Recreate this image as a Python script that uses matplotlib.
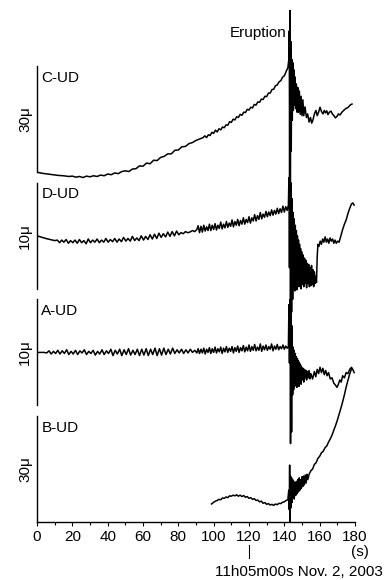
import matplotlib
matplotlib.use("Agg")
import matplotlib.pyplot as plt
from matplotlib.ticker import MultipleLocator

plt.rcParams['font.family'] = ['Liberation Sans', 'DejaVu Sans']
plt.rcParams['font.size'] = 11

# station labels and scale bars (micro units per bar)
stations = ["C-UD", "D-UD", "A-UD", "B-UD"]
scales = [30, 10, 10, 30]
scale_labels = ["30μ", "10μ", "10μ", "30μ"]

# traces: (time s, amplitude in micro units above bottom of scale bar)
c_trace = [
    (0, 0.0), (3, -0.3), (6, -0.5), (9, -0.7), (12, -0.9), (15, -1.0), (18, -1.2), (20, -1.1),
    (22, -1.4), (24, -1.2), (26, -1.5), (28, -1.1), (30, -1.3), (32, -1.0), (34, -1.2), (36, -0.8),
    (38, -1.0), (40, -0.5), (42, -0.7), (44, -0.2), (46, -0.4), (48, 0.2), (50, 0.4), (52, 0.2),
    (54, 0.9), (56, 1.0), (58, 1.8), (60, 1.7), (62, 2.6), (64, 2.4), (66, 3.4), (68, 3.3),
    (70, 4.2), (72, 4.5), (74, 5.2), (76, 5.2), (78, 6.2), (80, 6.3), (82, 7.2), (84, 7.3),
    (86, 8.1), (88, 8.4), (90, 9.0), (92, 9.4), (94, 9.8),
    (95, 10.3), (96, 9.8), (97, 10.6), (98, 10.4), (99, 11.3), (100, 11.0), (101, 11.9), (102, 11.4),
    (103, 12.3), (104, 12.0), (105, 12.8), (106, 12.6), (107, 13.4), (108, 13.3), (109, 14.3),
    (110, 14.1), (111, 15.0), (112, 14.8), (113, 15.7), (114, 15.5), (115, 16.4), (116, 16.1),
    (117, 17.0), (118, 16.9), (119, 17.8), (120, 17.6), (121, 18.4), (122, 18.2), (123, 19.2),
    (124, 19.0), (125, 19.9), (126, 19.8), (127, 20.7), (128, 20.6), (129, 21.5), (130, 21.4),
    (131, 22.4), (132, 22.4), (133, 23.4), (134, 23.5), (135, 24.5), (136, 24.7), (137, 25.6),
    (138, 25.9), (139, 26.9), (140, 27.3), (141, 28.5), (142, 29.6),
    (142.5, 31.7), (142.8, 40.0), (143.0, -2.3), (143.2, 45.8), (143.4, -8.0), (143.7, 37.0),
    (143.9, 6.0), (144.2, 32.0), (144.5, 14.7), (144.8, 31.0), (145.1, 17.5), (145.4, 29.0),
    (145.7, 19.0), (146.0, 27.0), (146.4, 18.0), (146.8, 25.0), (147.2, 17.0), (147.6, 24.0),
    (148.0, 17.0), (148.5, 23.0), (149.0, 16.4), (149.5, 21.5), (150.0, 16.0), (150.5, 20.5),
    (151, 16.0), (151.7, 18.5), (152.5, 15.5), (153.2, 16.5), (154, 14.2), (154.8, 15.5),
    (155.5, 13.9), (156.2, 14.8), (157, 16.5), (157.9, 17.5), (158.6, 16.0), (159.4, 17.0),
    (160.2, 18.4), (161, 17.2), (161.9, 16.5), (162.6, 17.5), (163.3, 16.8), (164, 17.4),
    (164.7, 16.3), (165.5, 17.0), (166.4, 17.3), (167.2, 16.5), (168.1, 16.0), (168.9, 15.4),
    (169.8, 15.8), (170.6, 16.5), (171.5, 16.2), (172.6, 17.0), (173.8, 17.6), (175, 18.1),
    (176, 18.3), (177.2, 19.0), (178.3, 19.3),
]

d_trace = [
    (0, 5.0), (5, 4.75), (10, 4.55), (11.5, 4.6), (12.8, 4.35), (14, 4.6), (15.2, 4.4), (16.5, 4.65),
    (17.8, 4.3), (19, 4.55), (20.3, 4.35), (21.5, 4.6), (22.8, 4.3), (24, 4.65), (25.3, 4.35),
    (26.5, 4.55), (27.8, 4.25), (29, 4.7), (30.3, 4.35), (31.5, 4.6), (32.8, 4.4), (34, 4.7),
    (35.3, 4.35), (36.5, 4.6), (37.8, 4.4), (39, 4.75), (40.3, 4.4), (41.5, 4.65), (42.8, 4.45),
    (44, 4.75), (45.3, 4.4), (46.5, 4.7), (47.8, 4.45), (49, 4.85), (50.3, 4.5), (51.5, 4.75),
    (52.8, 4.5), (54, 4.95), (55.3, 4.55), (56.5, 4.8), (57.8, 4.55), (59, 5.0), (60.3, 4.6),
    (61.5, 4.95), (62.8, 4.65), (64, 5.1), (65.3, 4.7), (66.5, 5.15), (67.8, 4.75), (69, 5.25),
    (70.3, 4.85), (71.5, 5.2), (72.8, 4.9), (74, 5.35), (75.3, 4.95), (76.5, 5.4), (77.8, 5.0),
    (79, 5.45), (80.3, 5.1), (81.5, 5.3), (82.8, 5.2), (84, 5.4), (85.3, 5.3), (86.5, 5.35),
    (88, 5.5), (89.3, 5.4), (90.5, 5.6),
    (91.2, 5.95), (92.0, 5.3), (92.8, 5.9), (93.6, 5.35), (94.4, 6.0), (95.2, 5.45), (96.0, 5.85),
    (96.8, 5.5), (97.6, 6.1), (98.4, 5.5), (99.2, 6.0), (100, 5.6), (100.8, 6.15), (101.6, 5.55),
    (102.4, 6.0), (103.2, 5.7), (104, 6.3), (104.8, 5.65), (105.6, 6.1), (106.4, 5.75), (107.2, 6.35),
    (108, 5.8), (108.8, 6.2), (109.6, 5.9), (110.4, 6.5), (111.2, 5.85), (112, 6.35), (112.8, 6.0),
    (113.6, 6.55), (114.4, 5.95), (115.2, 6.45), (116, 6.1), (116.8, 6.7), (117.6, 6.1), (118.4, 6.55),
    (119.2, 6.25), (120, 6.8), (120.8, 6.2), (121.6, 6.7), (122.4, 6.4), (123.2, 7.0), (124, 6.4),
    (124.8, 6.9), (125.6, 6.55), (126.4, 7.2), (127.2, 6.6), (128, 7.05), (128.8, 6.75), (129.6, 7.3),
    (130.4, 6.8), (131.2, 7.25), (132, 6.9), (132.8, 7.45), (133.6, 6.95), (134.4, 7.4), (135.2, 7.05),
    (136, 7.6), (136.8, 7.1), (137.6, 7.55), (138.4, 7.2), (139.2, 7.8), (140, 7.25), (140.8, 7.75),
    (141.6, 7.4), (142.3, 7.9),
    (142.6, 10.5), (142.9, 2.0), (143.2, 11.2), (143.5, -1.5), (143.8, 10.0), (144.1, -2.2),
    (144.4, 8.5), (144.7, -1.0), (145.0, 7.2), (145.3, 0.0), (145.6, 6.6), (145.9, -0.2),
    (146.2, 6.0), (146.5, 0.3), (146.8, 5.5), (147.1, -0.1), (147.4, 5.0), (147.7, 0.4),
    (148.0, 4.6), (148.3, 0.2), (148.6, 4.2), (148.9, 0.5), (149.2, 3.8), (149.5, 0.0),
    (149.8, 3.5), (150.2, 0.4), (150.6, 3.2), (151.0, 0.2), (151.4, 2.9), (151.8, 0.5),
    (152.2, 2.7), (152.6, 0.1), (153.0, 2.4), (153.4, 0.5), (153.8, 2.3), (154.2, 0.2),
    (154.6, 2.0), (155.0, 0.3), (155.4, 2.2), (155.8, 0.4), (156.2, 1.8), (156.6, 0.2),
    (157.0, 1.6), (157.4, 0.5), (157.8, 1.2), (158.2, 0.6), (158.6, 3.0), (159.0, 4.2),
    (159.6, 4.0), (160.3, 4.5), (161, 4.2), (161.7, 4.7), (162.4, 4.4), (163.1, 4.9), (163.8, 4.4),
    (164.5, 4.7), (165.2, 4.3), (165.9, 4.8), (166.6, 4.5), (167.3, 4.7), (168, 4.3), (168.7, 4.6),
    (169.4, 4.3), (170.2, 4.5), (171, 4.4), (172, 5.0), (173, 5.6), (174, 6.1), (175, 6.5),
    (176, 7.1), (177, 7.6), (178, 8.0), (178.8, 8.1), (179.5, 7.9),
]

a_trace = [
    (0, 5.0), (4, 5.0), (5.5, 4.95), (6.8, 5.15), (8, 4.85), (9.3, 5.1), (10.5, 4.9), (11.8, 5.2),
    (13, 4.85), (14.3, 5.15), (15.5, 4.9), (16.8, 5.25), (18, 4.8), (19.3, 5.1), (20.5, 4.85),
    (21.8, 5.2), (23, 4.8), (24.3, 5.15), (25.5, 4.95), (26.8, 5.25), (28, 4.8), (29.3, 5.1),
    (30.5, 4.9), (31.8, 5.2), (33, 4.75), (34.3, 5.1), (35.5, 4.85), (36.8, 5.25), (38, 4.8),
    (39.3, 5.15), (40.5, 4.9), (41.8, 5.3), (43, 4.7), (44.3, 5.2), (45.5, 4.85), (46.8, 5.3),
    (48, 4.7), (49.3, 5.25), (50.5, 4.8), (51.8, 5.35), (53, 4.75), (54.3, 5.2), (55.5, 4.8),
    (56.8, 5.3), (58, 4.7), (59.3, 5.3), (60.5, 4.75), (61.8, 5.35), (63, 4.7), (64.3, 5.3),
    (65.5, 4.8), (66.8, 5.4), (68, 4.7), (69.3, 5.35), (70.5, 4.75), (71.8, 5.4), (73, 4.8),
    (74.3, 5.3), (75.5, 4.85), (76.8, 5.4), (78, 4.9), (79.3, 5.25), (80.5, 4.95), (81.8, 5.3),
    (83, 4.9), (84.3, 5.25), (85.5, 4.95), (86.8, 5.3), (88, 5.0), (89.3, 5.2), (90.5, 4.95),
    (91.2, 5.35), (92, 4.9), (92.8, 5.3), (93.6, 4.95), (94.4, 5.4), (95.2, 4.85), (96, 5.3),
    (96.8, 5.0), (97.6, 5.45), (98.4, 4.9), (99.2, 5.35), (100, 5.0), (100.8, 5.5), (101.6, 4.95),
    (102.4, 5.35), (103.2, 5.05), (104, 5.5), (104.8, 4.9), (105.6, 5.4), (106.4, 5.05), (107.2, 5.55),
    (108, 5.0), (108.8, 5.4), (109.6, 5.1), (110.4, 5.55), (111.2, 4.95), (112, 5.45), (112.8, 5.1),
    (113.6, 5.6), (114.4, 5.0), (115.2, 5.45), (116, 5.15), (116.8, 5.65), (117.6, 5.05), (118.4, 5.5),
    (119.2, 5.15), (120, 5.7), (120.8, 5.1), (121.6, 5.55), (122.4, 5.2), (123.2, 5.75), (124, 5.15),
    (124.8, 5.5), (125.6, 5.2), (126.4, 5.8), (127.2, 5.1), (128, 5.6), (128.8, 5.25), (129.6, 5.7),
    (130.4, 5.2), (131.2, 5.55), (132, 5.3), (132.8, 5.8), (133.6, 5.15), (134.4, 5.6), (135.2, 5.3),
    (136, 5.75), (136.8, 5.25), (137.6, 5.55), (138.4, 5.35), (139.2, 5.7), (140, 5.3), (140.8, 5.6),
    (141.6, 5.4), (142.3, 5.55),
    (142.6, 9.5), (142.9, 4.0), (143.2, 10.0), (143.5, -3.6), (143.8, 9.0), (144.1, -2.5),
    (144.4, 7.5), (144.7, 1.0), (145.0, 5.5), (145.3, 1.5), (145.6, 5.2), (145.9, 1.8),
    (146.2, 4.9), (146.5, 2.0), (146.8, 4.6), (147.1, 1.7), (147.4, 4.4), (147.7, 2.2),
    (148.0, 4.2), (148.3, 1.8), (148.6, 4.0), (148.9, 2.3), (149.2, 3.8), (149.5, 2.0),
    (149.8, 3.6), (150.2, 2.4), (150.6, 3.5), (151.0, 2.2), (151.4, 3.4), (151.8, 2.6),
    (152.2, 3.3), (152.6, 2.4), (153.0, 3.2), (153.5, 2.6), (154.0, 3.3), (154.5, 2.5),
    (155, 3.0), (156, 2.5), (157, 3.2), (157.8, 2.7), (158.6, 3.4), (159.4, 3.0), (160.2, 3.6),
    (161, 3.1), (161.8, 3.5), (162.6, 2.9), (163.4, 3.3), (164.2, 2.8), (165, 3.1), (166, 2.5),
    (167, 2.6), (168, 2.1), (169, 1.9), (169.8, 1.7), (170.6, 2.0), (171.4, 2.4), (172.2, 2.2),
    (173, 2.8), (174, 2.6), (175, 3.1), (176, 3.0), (177, 3.4), (178, 3.6), (179, 3.3), (179.5, 3.1),
]

b_trace = [
    (98.8, 5.1), (100, 5.6), (101, 5.9), (102, 6.1), (103, 6.4), (104, 6.3), (105, 6.8), (106, 6.7),
    (107, 7.1), (108, 6.9), (109, 7.4), (110, 7.3), (111, 7.6), (112, 7.4), (113, 7.7), (114, 7.3),
    (115, 7.6), (116, 7.2), (117, 7.5), (118, 7.0), (119, 7.2), (120, 6.7), (121, 6.9), (122, 6.4),
    (123, 6.6), (124, 6.1), (125, 6.2), (126, 5.7), (127, 5.9), (128, 5.3), (129, 5.5), (130, 5.0),
    (131, 5.2), (132, 4.8), (133, 5.0), (134, 4.7), (135, 5.1), (136, 4.9), (137, 5.3), (138, 5.2),
    (139, 5.6), (140, 5.7), (141, 6.1), (142, 6.3),
    (142.5, 9.0), (142.8, 3.5), (143.0, 16.1), (143.2, 0.0), (143.5, 13.0), (143.8, 4.0),
    (144.1, 12.5), (144.4, 5.5), (144.7, 12.0), (145.0, 7.0), (145.3, 11.5), (145.6, 6.5),
    (146.0, 11.0), (146.4, 7.5), (146.8, 11.5), (147.2, 8.0), (147.6, 12.0), (148.0, 8.5),
    (148.4, 12.5), (148.8, 9.0), (149.2, 12.0), (149.6, 9.5), (150.0, 12.8), (150.4, 10.0),
    (150.8, 13.0), (151.3, 10.5), (151.8, 13.3), (152.3, 11.0), (152.8, 13.5), (153.3, 12.0),
    (154, 13.5), (155, 14.5), (156, 15.0), (157, 16.3), (158, 16.8), (159, 18.0), (160, 18.6),
    (161, 19.6), (162, 20.0), (163, 21.0), (164, 21.5), (165, 22.6), (166, 23.5), (167, 24.6),
    (168, 26.0), (169, 27.3), (170, 28.8), (171, 30.5), (172, 32.2), (173, 34.0), (174, 36.0),
    (175, 38.2), (176, 40.1), (177, 41.9), (178, 43.3),
]

traces = [c_trace, d_trace, a_trace, b_trace]
offsets = [3.3, 2.2, 1.1, 0.0]   # panel position, in scale-bar heights

fig = plt.figure(figsize=(3.89, 5.80), dpi=100)
ax = fig.add_axes([0.0951, 0.1, 0.8175, 0.9])

for name, sc, lab, tr, off in zip(stations, scales, scale_labels, traces, offsets):
    t = [p[0] for p in tr]
    v = [off + p[1] / sc for p in tr]
    ax.plot(t, v, color='black', lw=1.1)
    # scale bar on the left
    ax.plot([0, 0], [off, off + 1], color='black', lw=1.0, clip_on=False)
    ax.text(-6.8, off + 0.5, lab, rotation=90, ha='center', va='center')
    ax.text(2.5, off + 0.89, name, ha='left', va='center')

ax.text(141.5, 4.61, "Eruption", ha='right', va='center')

ax.set_xlim(0, 180)
ax.set_ylim(0, 4.925)
ax.xaxis.set_major_locator(MultipleLocator(20))
ax.xaxis.set_minor_locator(MultipleLocator(10))
ax.tick_params(axis='x', which='major', length=3, width=0.8, pad=2.5, labelsize=11)
ax.tick_params(axis='x', which='minor', length=2.5, width=0.8)
ax.set_yticks([])
for s in ['left', 'top', 'right']:
    ax.spines[s].set_visible(False)
ax.spines['bottom'].set_linewidth(1.0)

# units and reference time
ax.text(182.8, -0.28, "(s)", ha='center', va='center', clip_on=False)
ax.plot([120, 120], [-0.22, -0.34], color='black', lw=0.8, clip_on=False)
ax.text(196, -0.47, "11h05m00s Nov. 2, 2003", ha='right', va='center', clip_on=False)

fig.savefig("out.png", dpi=100)
